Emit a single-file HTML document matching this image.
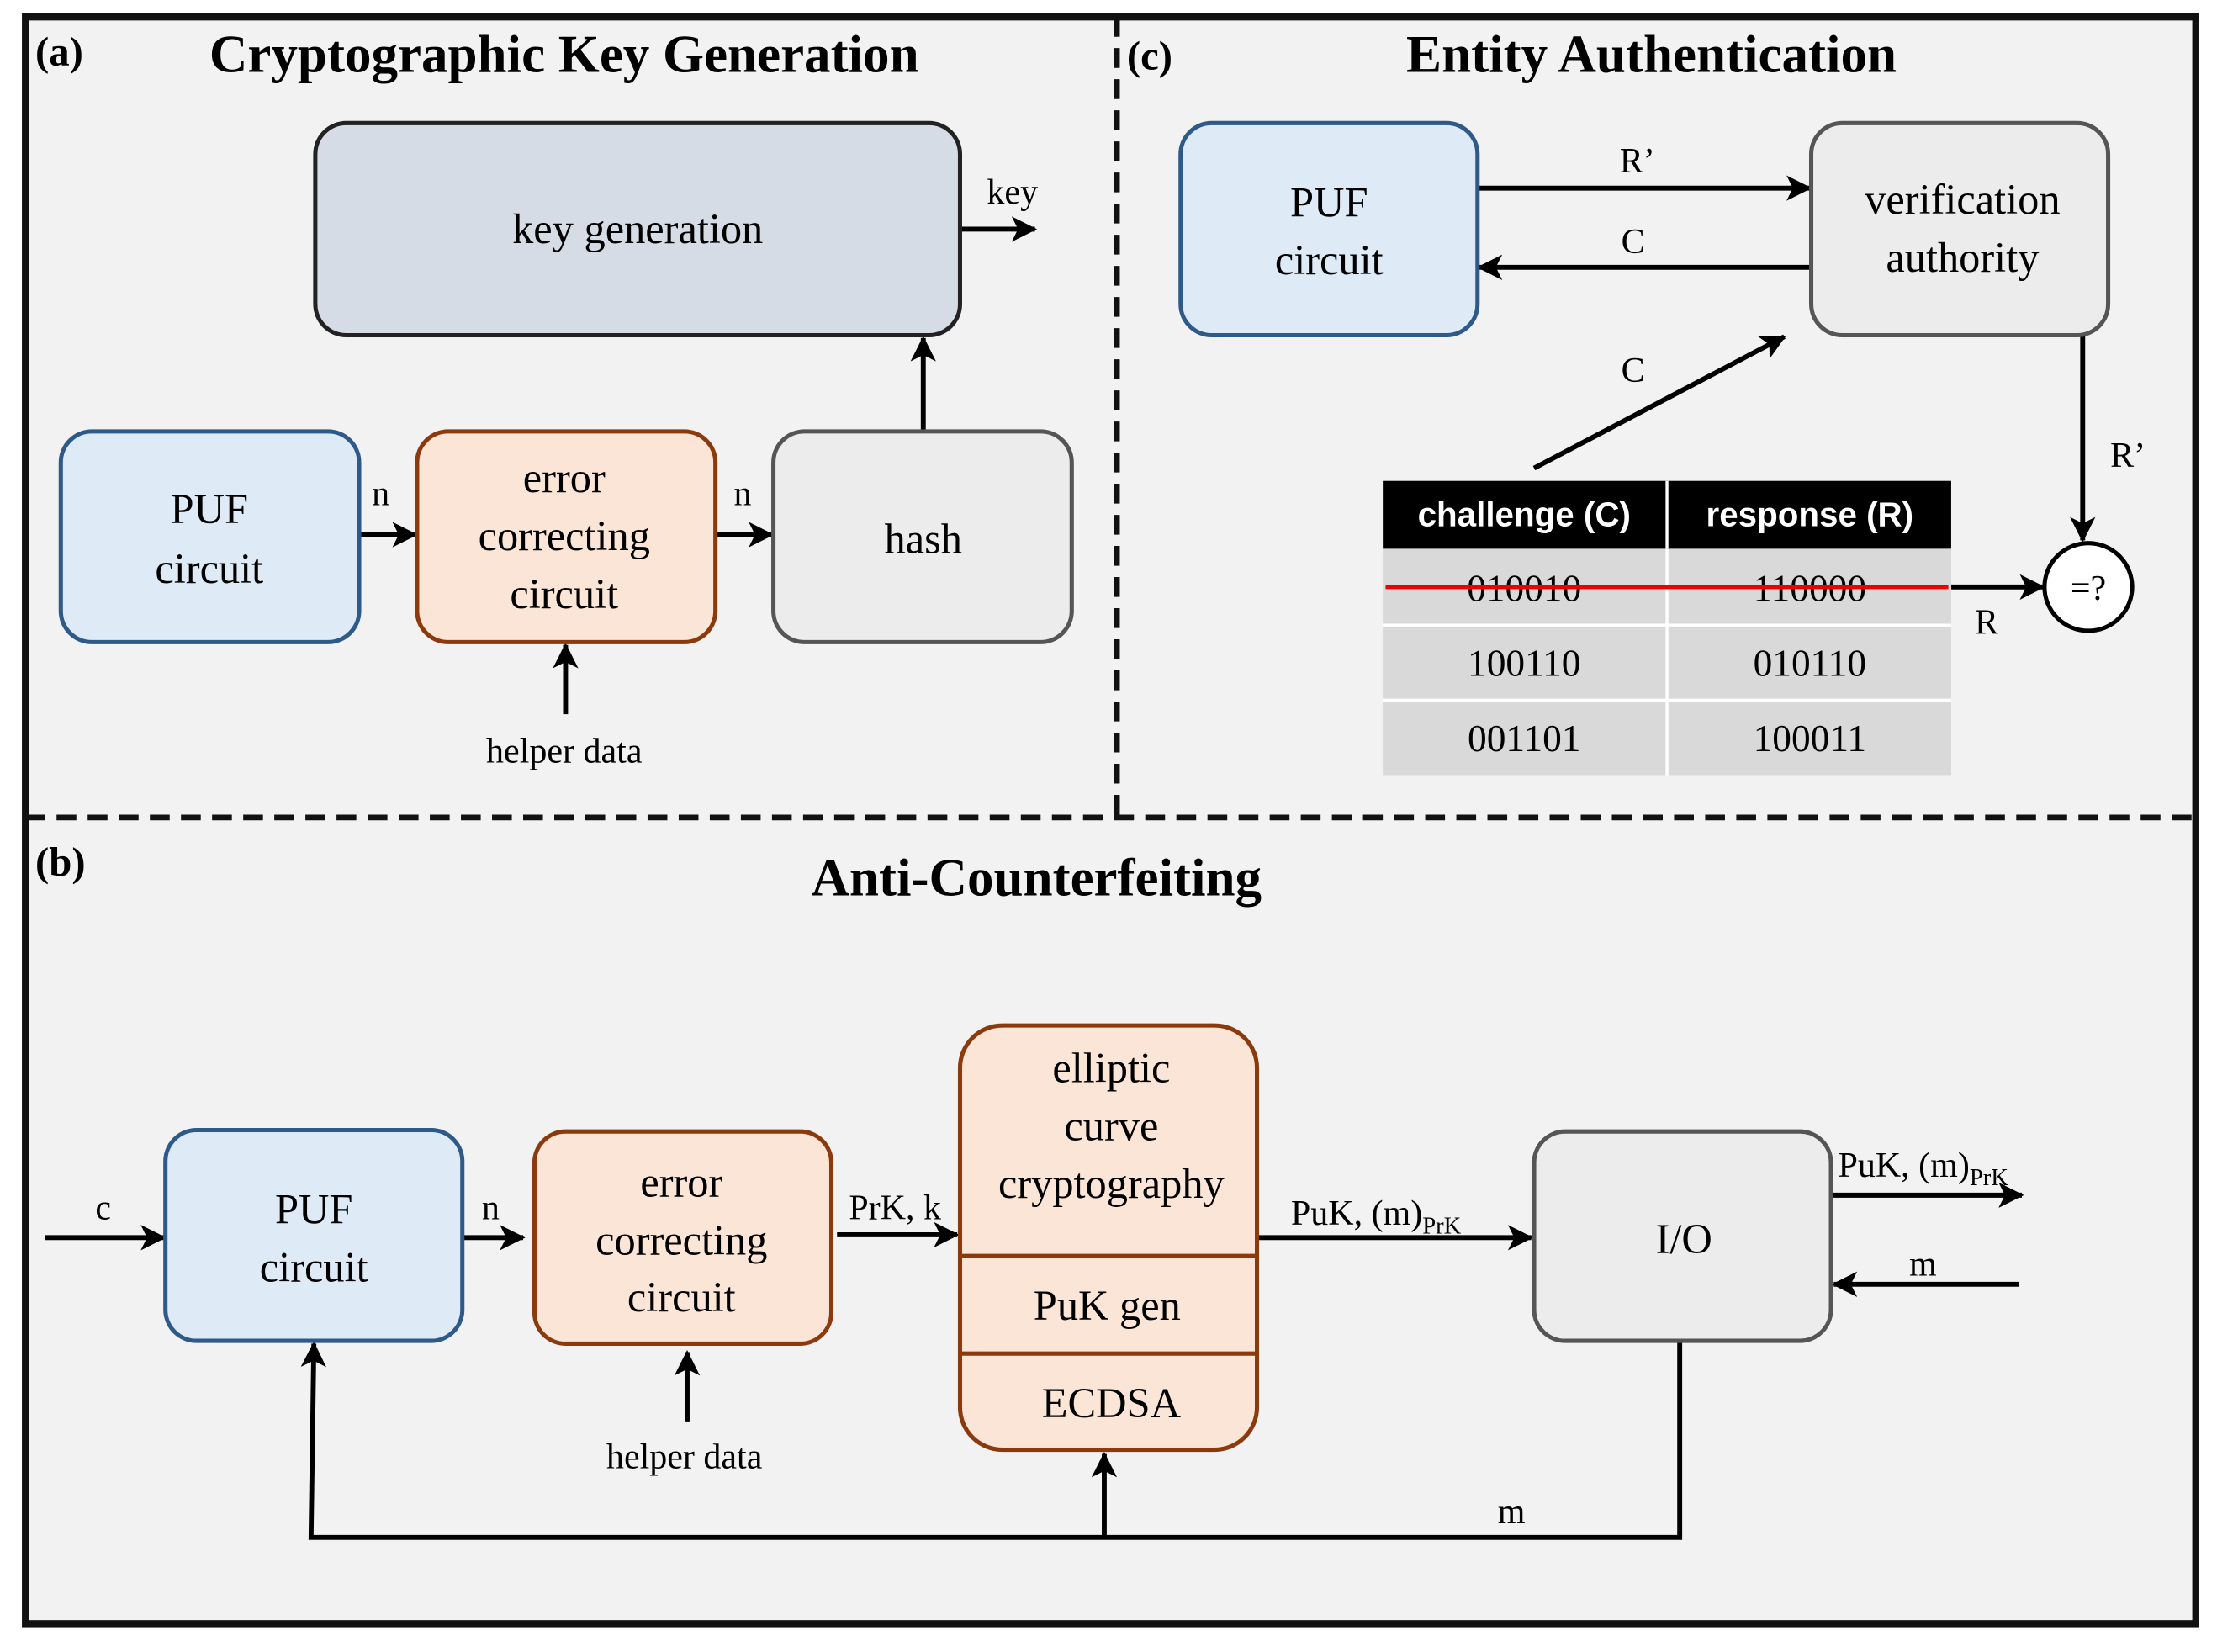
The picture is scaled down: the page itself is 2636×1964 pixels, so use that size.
<!DOCTYPE html>
<html><head><meta charset="utf-8"><style>
html,body{margin:0;padding:0;background:#fff;}
svg{display:block;}
text{font-family:"Liberation Serif",serif;fill:#000;}
.t{font-size:30px;text-anchor:middle;}
.l{font-size:25px;}
.h{font-size:37.5px;font-weight:bold;text-anchor:middle;}
.s{font-family:"Liberation Sans",sans-serif;font-size:24px;font-weight:bold;fill:#fff;text-anchor:middle;}
.tb{font-size:27px;text-anchor:middle;}
.p{font-weight:bold;font-size:29px;}
</style></head><body>
<svg width="2636" height="1964" viewBox="0 0 1568 1168" preserveAspectRatio="none" xmlns="http://www.w3.org/2000/svg">
<defs>
<marker id="a" viewBox="0 0 12 12" refX="11" refY="6" markerWidth="18" markerHeight="18" markerUnits="userSpaceOnUse" orient="auto">
<path d="M0,0 L12,6 L0,12 L3,6 z" fill="#000"/></marker>
</defs>
<rect x="18" y="12" width="1535" height="1136" fill="#f2f2f2" stroke="#111" stroke-width="5"/>
<line x1="18" y1="578" x2="1553" y2="578" stroke="#111" stroke-width="4" stroke-dasharray="14,8"/>
<line x1="790" y1="12" x2="790" y2="578" stroke="#111" stroke-width="4" stroke-dasharray="14,8"/>

<g stroke-width="3.5" stroke="#000" fill="none" marker-end="url(#a)">
<line x1="679" y1="162" x2="732" y2="162"/>
<line x1="254" y1="378" x2="294" y2="378"/>
<line x1="506" y1="378" x2="546" y2="378"/>
<line x1="653" y1="305" x2="653" y2="239"/>
<line x1="400" y1="505" x2="400" y2="456"/>
<line x1="1045" y1="133" x2="1280" y2="133"/>
<line x1="1281" y1="189" x2="1046" y2="189"/>
<line x1="1085" y1="331" x2="1262" y2="238"/>
<line x1="1380" y1="415" x2="1445" y2="415"/>
<line x1="1473" y1="237" x2="1473" y2="382"/>
<line x1="32" y1="875" x2="116" y2="875"/>
<line x1="327" y1="875" x2="370" y2="875"/>
<line x1="592" y1="873" x2="677" y2="873"/>
<line x1="889" y1="875" x2="1083" y2="875"/>
<line x1="1295" y1="845" x2="1430" y2="845"/>
<line x1="1428" y1="908" x2="1297" y2="908"/>
<line x1="486" y1="1005" x2="486" y2="956"/>
<line x1="781" y1="1087" x2="781" y2="1028"/>
<polyline points="1188,948 1188,1087 220,1087 222,950"/>
</g>

<rect x="223" y="87" width="456" height="150" rx="22" fill="#d6dce5" stroke="#222" stroke-width="3"/>
<rect x="43" y="305" width="211" height="149" rx="22" fill="#deebf7" stroke="#2e5a8a" stroke-width="3"/>
<rect x="295" y="305" width="211" height="149" rx="22" fill="#fbe5d6" stroke="#8b3a0e" stroke-width="3"/>
<rect x="547" y="305" width="211" height="149" rx="22" fill="#ececec" stroke="#555" stroke-width="3"/>
<text x="25" y="46" class="p">(a)</text>
<text x="399" y="51" class="h">Cryptographic Key Generation</text>
<text x="451" y="172" class="t">key generation</text>
<text x="698" y="144" class="l">key</text>
<text x="148" y="370" class="t">PUF</text><text x="148" y="412" class="t">circuit</text>
<text x="399" y="348" class="t">error</text><text x="399" y="389" class="t">correcting</text><text x="399" y="430" class="t">circuit</text>
<text x="653" y="391" class="t">hash</text>
<text x="263" y="357" class="l">n</text><text x="519" y="357" class="l">n</text>
<text x="399" y="539" class="l" text-anchor="middle">helper data</text>

<text x="797" y="49" class="p">(c)</text>
<text x="1168" y="51" class="h">Entity Authentication</text>
<rect x="835" y="87" width="210" height="150" rx="22" fill="#deebf7" stroke="#2e5a8a" stroke-width="3"/>
<rect x="1281" y="87" width="210" height="150" rx="22" fill="#ececec" stroke="#555" stroke-width="3"/>
<text x="940" y="153" class="t">PUF</text><text x="940" y="194" class="t">circuit</text>
<text x="1388" y="151" class="t">verification</text><text x="1388" y="192" class="t">authority</text>
<text x="1158" y="122" class="l" text-anchor="middle">R’</text>
<text x="1155" y="179" class="l" text-anchor="middle">C</text>
<text x="1155" y="270" class="l" text-anchor="middle">C</text>
<text x="1505" y="330" class="l" text-anchor="middle">R’</text>
<text x="1405" y="448" class="l" text-anchor="middle">R</text>
<rect x="978" y="340" width="402" height="48" fill="#000"/>
<line x1="1179" y1="340" x2="1179" y2="388" stroke="#fff" stroke-width="2"/>
<text x="1078" y="372" class="s">challenge (C)</text><text x="1280" y="372" class="s">response (R)</text>
<rect x="978" y="388" width="402" height="160" fill="#d9d9d9"/>
<g stroke="#fff" stroke-width="2"><line x1="978" y1="442" x2="1380" y2="442"/><line x1="978" y1="495" x2="1380" y2="495"/><line x1="1179" y1="388" x2="1179" y2="548"/></g>
<text x="1078" y="425" class="tb">010010</text><text x="1280" y="425" class="tb">110000</text>
<text x="1078" y="478" class="tb">100110</text><text x="1280" y="478" class="tb">010110</text>
<text x="1078" y="531" class="tb">001101</text><text x="1280" y="531" class="tb">100011</text>
<line x1="980" y1="415" x2="1378" y2="415" stroke="#e00" stroke-width="3"/>
<circle cx="1477" cy="415" r="31" fill="#fff" stroke="#000" stroke-width="3"/>
<text x="1477" y="424" class="l" text-anchor="middle">=?</text>

<text x="25" y="619" class="p">(b)</text>
<text x="733" y="633" class="h">Anti-Counterfeiting</text>
<rect x="117" y="799" width="210" height="149" rx="22" fill="#deebf7" stroke="#2e5a8a" stroke-width="3"/>
<rect x="378" y="800" width="210" height="150" rx="22" fill="#fbe5d6" stroke="#8b3a0e" stroke-width="3"/>
<rect x="679" y="725" width="210" height="300" rx="30" fill="#fbe5d6" stroke="#8b3a0e" stroke-width="3"/>
<line x1="679" y1="888" x2="889" y2="888" stroke="#8b3a0e" stroke-width="3"/>
<line x1="679" y1="957" x2="889" y2="957" stroke="#8b3a0e" stroke-width="3"/>
<rect x="1085" y="800" width="210" height="148" rx="22" fill="#ececec" stroke="#555" stroke-width="3"/>
<text x="222" y="865" class="t">PUF</text><text x="222" y="906" class="t">circuit</text>
<text x="482" y="846" class="t">error</text><text x="482" y="887" class="t">correcting</text><text x="482" y="927" class="t">circuit</text>
<text x="786" y="765" class="t">elliptic</text><text x="786" y="806" class="t">curve</text><text x="786" y="847" class="t">cryptography</text>
<text x="783" y="933" class="t">PuK gen</text>
<text x="786" y="1002" class="t">ECDSA</text>
<text x="1191" y="886" class="t">I/O</text>
<text x="73" y="862" class="l" text-anchor="middle">c</text>
<text x="347" y="862" class="l" text-anchor="middle">n</text>
<text x="633" y="862" class="l" text-anchor="middle">PrK, k</text>
<text x="913" y="866" class="l">PuK, (m)<tspan font-size="17" dy="6">PrK</tspan></text>
<text x="1300" y="832" class="l">PuK, (m)<tspan font-size="17" dy="6">PrK</tspan></text>
<text x="1360" y="902" class="l" text-anchor="middle">m</text>
<text x="1069" y="1077" class="l" text-anchor="middle">m</text>
<text x="484" y="1038" class="l" text-anchor="middle">helper data</text>
</svg>
</body></html>
